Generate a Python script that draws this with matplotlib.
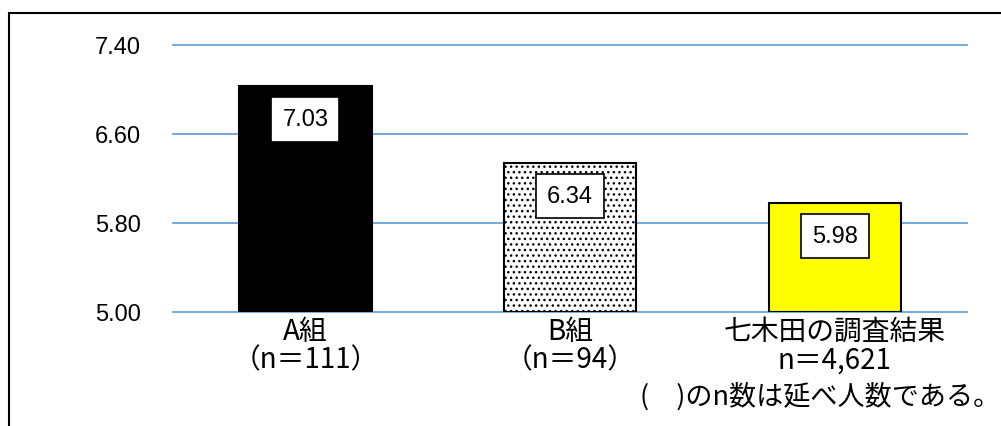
import matplotlib
matplotlib.use("Agg")
import matplotlib.pyplot as plt
from matplotlib.patches import Rectangle

plt.rcParams['font.family'] = ['Noto Sans CJK JP', 'DejaVu Sans']

# mean scores per group
groups = ['A組\n（n＝111）', 'B組\n（n＝94）', '七木田の調査結果\nn＝4,621']
values = [7.03, 6.34, 5.98]
face_colors = ['black', 'white', '#FFFF00']
hatches = [None, '...', None]
y_ticks = [5.00, 5.80, 6.60, 7.40]
footnote = '(　)のn数は延べ人数である。'

W, H = 1001, 427
fig = plt.figure(figsize=(W / 100, H / 100), dpi=100)
ax = fig.add_axes([173 / W, 1 - 313 / H, (967 - 173) / W, (313 - 46) / H])

# outer frame of the chart area
fig.patches.append(Rectangle((9 / W, -0.1), 1.2, 1 - 14 / H + 0.1,
                             transform=fig.transFigure, fill=False,
                             edgecolor='black', linewidth=1.5))

x = range(len(values))
for i, v in enumerate(values):
    ax.bar(i, v - y_ticks[0], bottom=y_ticks[0], width=0.5,
           color=face_colors[i], edgecolor='black', linewidth=1.5,
           hatch=hatches[i], zorder=3)
    ax.annotate(f'{v:.2f}', xy=(i, v), xytext=(0, -24),
                textcoords='offset points', ha='center', va='center',
                fontsize=17, family='Liberation Sans', zorder=4,
                bbox=dict(boxstyle='square,pad=0.47', fc='white',
                          ec='black', lw=1.2))

ax.set_xlim(-0.5, 2.5)
ax.set_ylim(5.0, 7.4)
ax.set_yticks(y_ticks)
ax.set_yticklabels([f'{t:.2f}' for t in y_ticks], family='Liberation Sans',
                   fontsize=17)
ax.set_xticks(list(x))
ax.set_xticklabels(groups, fontsize=20, linespacing=0.92)
ax.tick_params(axis='y', length=0, pad=23)
ax.tick_params(axis='x', length=0, pad=3)
ax.grid(axis='y', color='#5B9BD5', linewidth=1.2, zorder=0)
for gl in ax.get_ygridlines():
    gl.set_clip_on(False)
for s in ax.spines.values():
    s.set_visible(False)

fig.text(1000 / W, 1 - 397 / H, footnote, ha='right', va='center',
         fontsize=19.5)

fig.savefig('out.png', dpi=100)
